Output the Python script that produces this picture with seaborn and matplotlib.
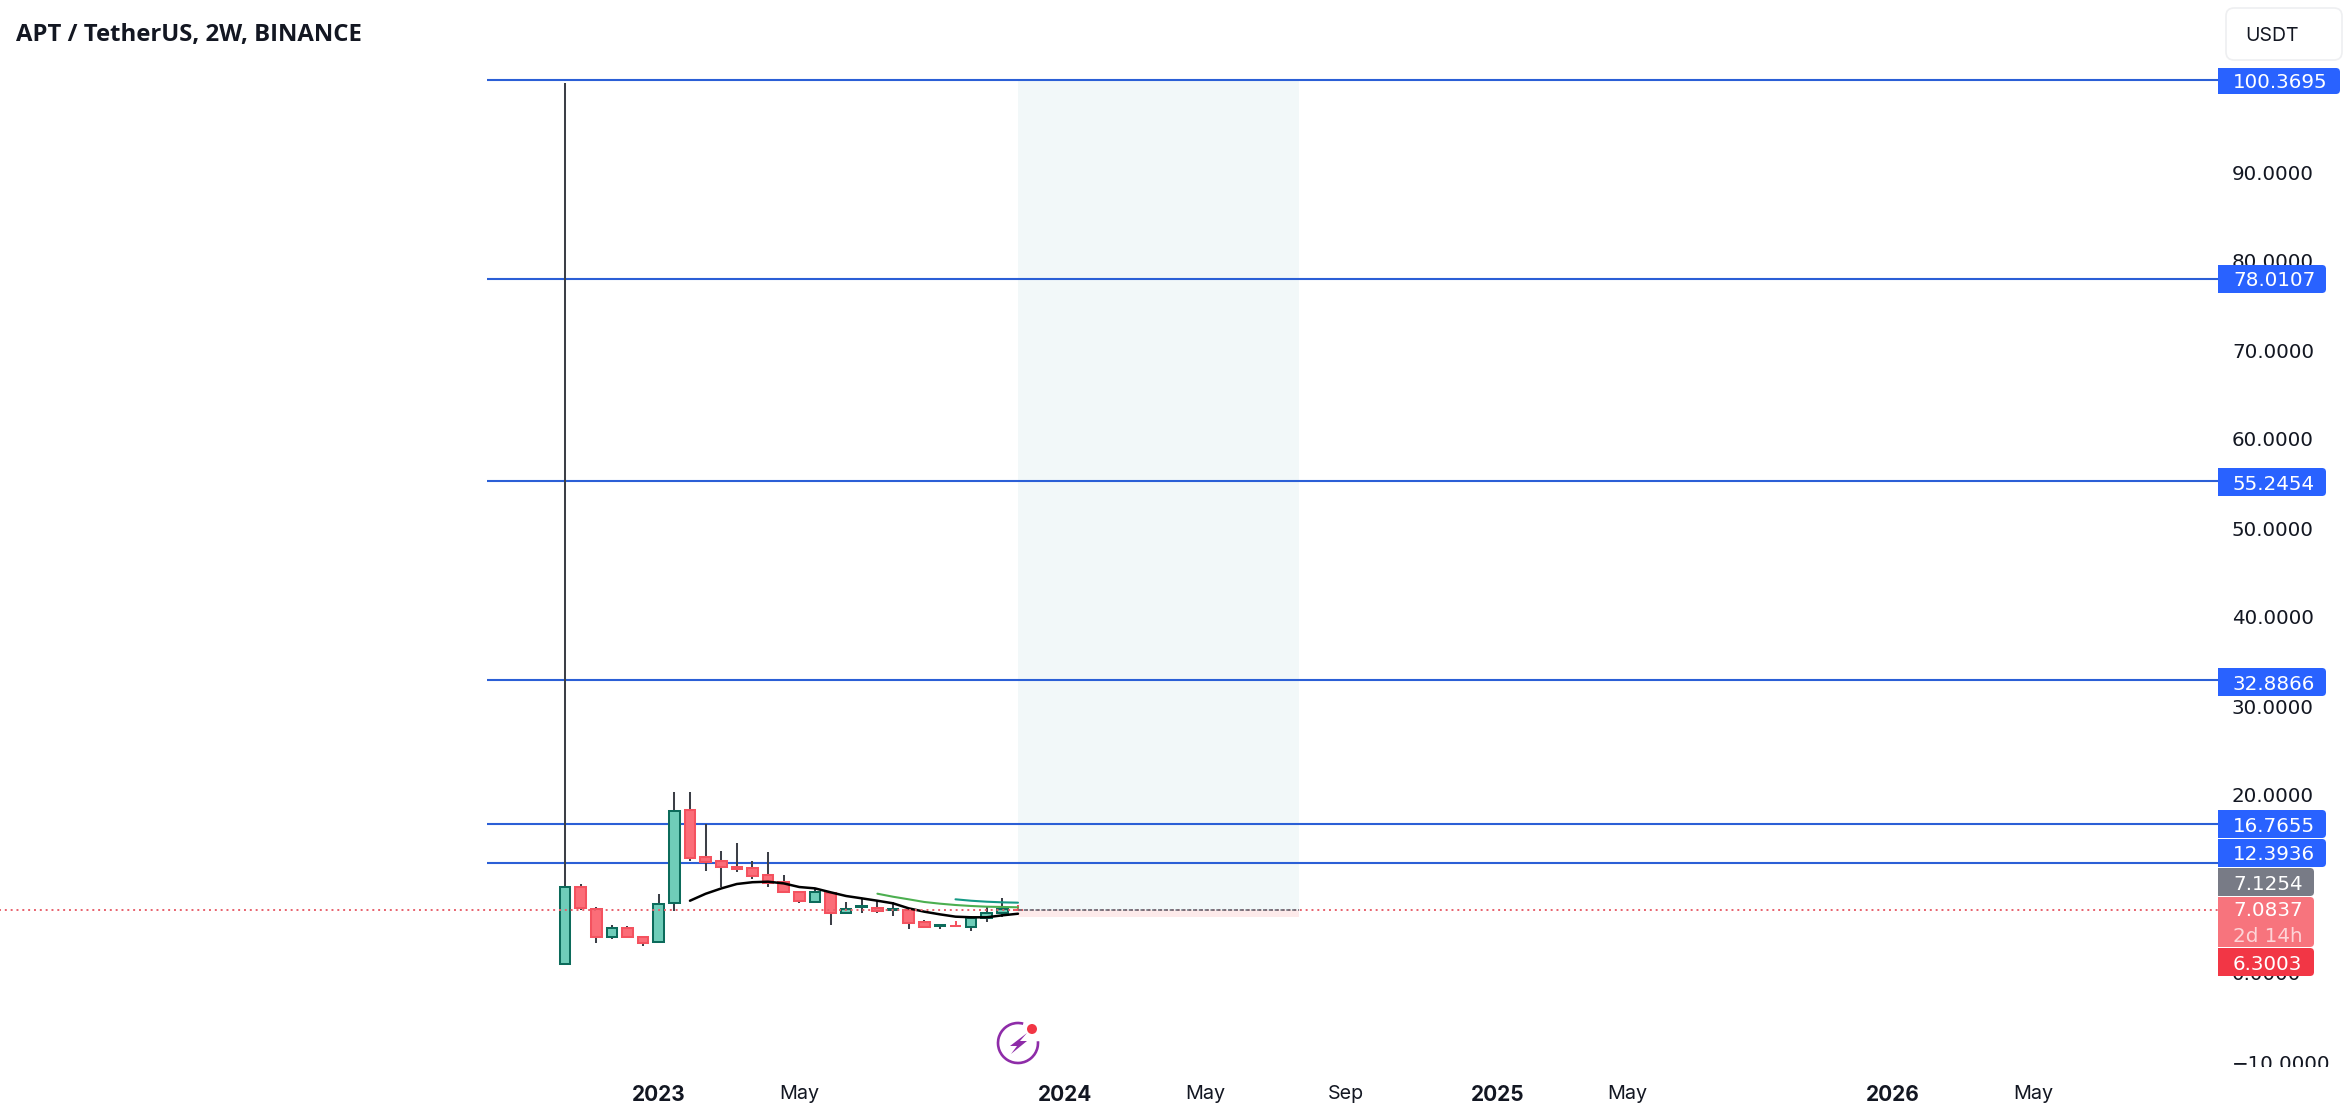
# ==========================================
# APT / USDT 2W CANDLES WITH FIB LEVELS
# ==========================================

import matplotlib
matplotlib.use("Agg")

import matplotlib.pyplot as plt
import numpy as np
import pandas as pd
import seaborn as sns
from matplotlib.patches import Arc, Circle, FancyBboxPatch, Polygon, Rectangle
from matplotlib.transforms import Affine2D

# ==========================================
# Data
# ==========================================

opens = [1.01, 9.70, 7.23, 4.01, 5.09, 4.01, 3.45, 7.83, 18.28, 13.00,
         12.55, 11.91, 11.76, 10.97, 10.19, 9.14, 8.01, 9.02, 6.71, 7.40,
         7.34, 7.05, 7.08, 5.70, 5.27, 5.33, 5.13, 6.15, 6.74, 7.1254]
closes = [9.70, 7.27, 4.01, 5.09, 4.01, 3.41, 7.79, 18.24, 12.96, 12.47,
          11.87, 11.72, 10.93, 10.15, 9.14, 8.05, 9.07, 6.71, 7.23, 7.50,
          6.93, 7.15, 5.65, 5.13, 5.37, 5.23, 6.18, 6.78, 7.16, 7.0837]
highs = [100.00, 10.00, 7.38, 5.39, 5.30, 4.16, 8.84, 20.30, 20.30, 16.74,
         13.70, 14.57, 12.58, 13.56, 11.00, 9.20, 9.51, 9.14, 7.94, 8.28,
         8.12, 7.94, 7.12, 5.96, 5.51, 5.84, 6.40, 7.45, 8.39, 7.60]
lows = [1.01, 7.08, 3.41, 3.86, 4.00, 3.03, 3.45, 7.00, 12.62, 11.50,
        9.70, 11.38, 10.60, 9.70, 9.02, 7.83, 7.83, 5.39, 6.71, 6.78,
        6.78, 6.44, 4.98, 5.13, 4.91, 5.13, 4.75, 5.76, 6.33, 6.95]

ma_black_bars = list(range(8, 30))
ma_black = [8.12, 8.90, 9.50, 10.00, 10.20, 10.26, 10.07, 9.66, 9.51, 9.07, 8.65,
            8.39, 8.12, 7.83, 7.27, 6.89, 6.59, 6.33, 6.26, 6.26, 6.48, 6.66]
ma_green_bars = list(range(20, 30))
ma_green = [8.91, 8.57, 8.28, 7.98, 7.79, 7.64, 7.53, 7.45, 7.42, 7.38]
ma_teal_bars = list(range(25, 30))
ma_teal = [8.28, 8.12, 8.01, 7.94, 7.90]

levels = [100.3695, 78.0107, 55.2454, 32.8866, 16.7655, 12.3936]
last_price = 7.0837
entry_price = 7.1254
stop_price = 6.3003

y_ticks = [-10, 0, 10, 20, 30, 40, 50, 60, 70, 80, 90]
x_ticks = [6, 15, 32, 41, 50, 59.7, 68, 85, 94]
x_tick_labels = ["2023", "May", "2024", "May", "Sep", "2025", "May", "2026", "May"]
year_labels = ["2023", "2024", "2025", "2026"]
red_wick_bars = [25, 29]

# ==========================================
# Figure Setup
# ==========================================

sns.set_theme(style="white")
plt.rcParams["font.family"] = ["Inter", "DejaVu Sans"]

W, H = 2350, 1120
fig = plt.figure(figsize=(W / 100, H / 100), dpi=100, facecolor="white")
ax = fig.add_axes([0, (H - 1068) / H, 2218 / W, 1068 / H])

# pixel coordinates with origin at top left, for the screen furniture
px = Affine2D().scale(1, -1).translate(0, H)

BLUE = "#2962ff"
LINE_BLUE = "#2b5fd6"
RED_BODY = "#fb6d78"
RED_EDGE = "#f4525f"
GREEN_BODY = "#6fcdb9"
GREEN_EDGE = "#0c6b5b"
WICK = "#3c3f47"
PRICE_FONT = "DejaVu Sans"

candles = pd.DataFrame({"bar": range(len(opens)), "open": opens, "close": closes,
                        "high": highs, "low": lows})
candles["bottom"] = candles[["open", "close"]].min(axis=1)
candles["height"] = (candles["close"] - candles["open"]).abs()
candles["up"] = candles["close"] >= candles["open"]
candles["wick"] = [RED_EDGE if b in red_wick_bars else WICK for b in candles["bar"]]

# ==========================================
# Position Box and Levels
# ==========================================

ax.fill_between([29, 47], entry_price, levels[0], color="#f2f8f9", lw=0, zorder=0.5)
ax.fill_between([29, 47], stop_price, last_price, color="#fdeaea", lw=0, zorder=0.5)
ax.hlines(levels, -5, 110, color=LINE_BLUE, lw=1.5, zorder=1)

# ==========================================
# Candles
# ==========================================

ax.vlines(candles["bar"], candles["low"], candles["high"], color=candles["wick"], lw=1.45, zorder=1.5)

for is_up, body, edge in [(True, GREEN_BODY, GREEN_EDGE), (False, RED_BODY, RED_EDGE)]:
    part = candles[candles["up"] == is_up]
    ax.bar(part["bar"], part["height"], bottom=part["bottom"], width=0.68,
           color=body, edgecolor=edge, linewidth=1.45, zorder=2)

# ==========================================
# Moving Averages and Price Lines
# ==========================================

sns.lineplot(x=ma_black_bars, y=ma_black, color="black", lw=1.8, ax=ax, zorder=3)
sns.lineplot(x=ma_green_bars, y=ma_green, color="#4caf50", lw=1.5, ax=ax, zorder=3)
sns.lineplot(x=ma_teal_bars, y=ma_teal, color="#159a85", lw=1.5, ax=ax, zorder=3)

ax.hlines(last_price, -40, 110, color="#e8616c", lw=1.4, linestyles=(0, (1, 2)), zorder=3)
ax.hlines(entry_price, 29, 47, color="#6d707a", lw=1.2, linestyles=(0, (2.5, 1)), zorder=3)

# ==========================================
# Axes
# ==========================================

ax.set_xlim(-565 / 15.62, (2218 - 565) / 15.62)
ax.set_ylim((973 - 1068) / 8.9, 973 / 8.9)
ax.set_xlabel("")
ax.set_ylabel("")
sns.despine(ax=ax, left=True, bottom=True, right=True, top=True)

ax.yaxis.tick_right()
ax.set_yticks(y_ticks)
ax.set_yticklabels([f"{v:.4f}".replace("-", "\u2212") for v in y_ticks], family=PRICE_FONT)
ax.tick_params(axis="y", length=0, pad=10, labelsize=14.3, labelcolor="#131722")

ax.set_xticks(x_ticks)
ax.set_xticklabels(x_tick_labels)
ax.tick_params(axis="x", length=0, pad=12, labelsize=14.2, labelcolor="#131722")
for label in ax.get_xticklabels():
    if label.get_text() in year_labels:
        label.set_fontweight("bold")
        label.set_fontsize(15)

# the price scale is cut off where the time scale starts
clip_box = Rectangle((2218, 0), W - 2218, 1067, transform=px)
for label in ax.get_yticklabels():
    label.set_clip_path(clip_box)
    label.set_clip_on(True)

# ==========================================
# Price Labels
# ==========================================


def price_tag(top, bottom, right, color):
    fig.add_artist(FancyBboxPatch((2218, top), right - 2218, bottom - top, transform=px,
                                  boxstyle="round,pad=0,rounding_size=4", fc=color, ec="none"))
    fig.add_artist(Rectangle((2218, top), 20, bottom - top, transform=px, fc=color, ec="none"))


def tag_text(y, text, color="white"):
    fig.text(2233, y, text, transform=px, color=color, family=PRICE_FONT, fontsize=14.3,
             va="center_baseline", ha="left")


tag_rows = [(levels[0], 68, 94, 2340), (levels[1], 265, 293, 2326), (levels[2], 468, 496, 2326),
            (levels[3], 668, 696, 2326), (levels[4], 810, 838, 2326), (levels[5], 839, 867, 2326)]
for value, top, bottom, right in tag_rows:
    price_tag(top, bottom, right, BLUE)
    tag_text((top + bottom) / 2, f"{value:.4f}")

price_tag(868, 896, 2314, "#787b86")
tag_text(882, f"{entry_price:.4f}")
price_tag(897, 947, 2314, "#f7747d")
tag_text(909, f"{last_price:.4f}")
tag_text(934, "2d 14h", color="#fdd5d8")
price_tag(948, 976, 2314, "#f23645")
tag_text(962, f"{stop_price:.4f}")

# ==========================================
# Header and Icon
# ==========================================

fig.text(16, 32, "APT / TetherUS, 2W, BINANCE", transform=px, family=["Open Sans", "DejaVu Sans"],
         fontsize=17.2, fontweight="bold", color="#131722", va="center_baseline")

fig.add_artist(FancyBboxPatch((2226, 8), 116, 52, transform=px, boxstyle="round,pad=0,rounding_size=8",
                              fc="white", ec="#eeeff1", lw=1.2))
fig.text(2245, 34, "USDT", transform=px, fontsize=14, color="#131722", va="center_baseline")

PURPLE = "#8e2ca8"
fig.add_artist(Arc((1018, 1043), 40, 40, theta1=-5, theta2=285, transform=px, color=PURPLE, lw=1.9))
fig.add_artist(Polygon([(1027, 1033), (1010, 1046), (1017, 1046), (1011, 1054), (1027, 1041), (1020, 1041)],
                       closed=True, transform=px, fc=PURPLE, ec="none"))
fig.add_artist(Circle((1032, 1029), 5, transform=px, fc="#f23645", ec="none"))

fig.savefig("out.png", dpi=100)
